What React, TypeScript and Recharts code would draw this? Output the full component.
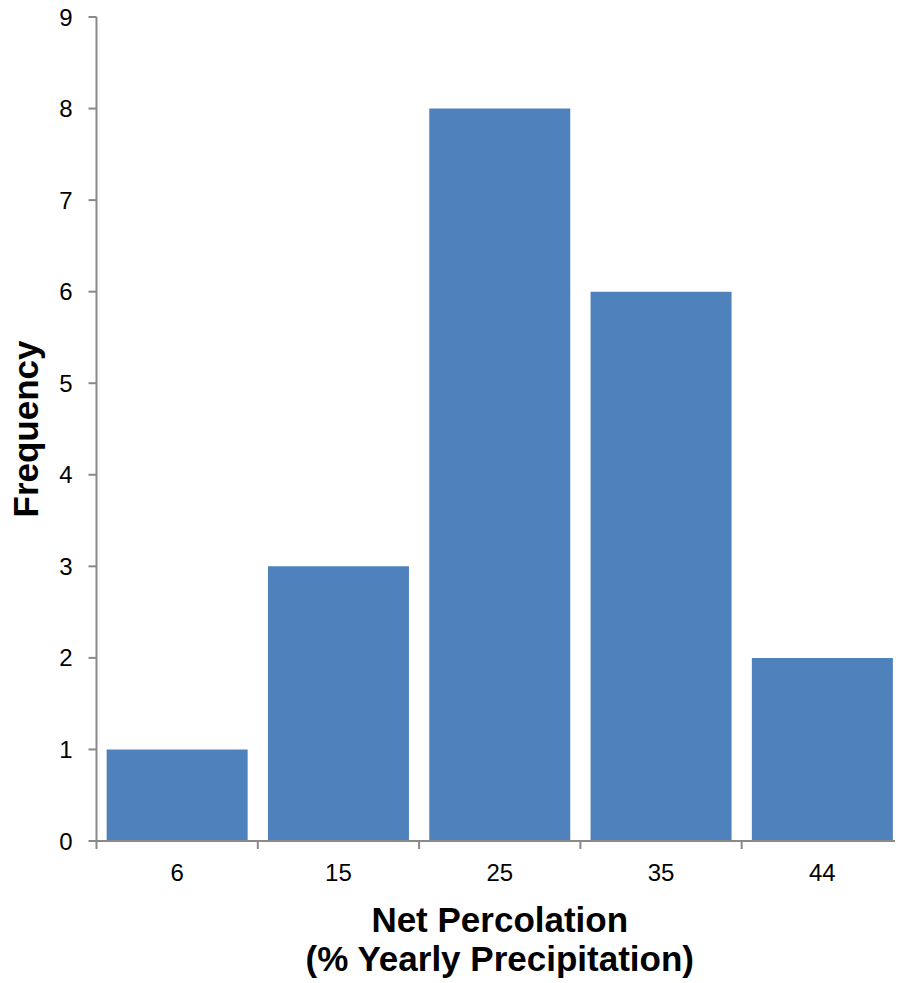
import React from 'react';
import { BarChart, Bar, XAxis, YAxis, Label } from 'recharts';

const categories = ['6', '15', '25', '35', '44'];
const frequencies = [1, 3, 8, 6, 2];
const yTicks = [0, 1, 2, 3, 4, 5, 6, 7, 8, 9];
const xTitleLines = ['Net Percolation', '(% Yearly Precipitation)'];
const yTitle = 'Frequency';

const data = categories.map((c, i) => ({ bin: c, frequency: frequencies[i] }));

const FONT = '"Liberation Sans", Arial, Helvetica, sans-serif';
const AXIS = '#898989';
const BAR = '#4F81BD';

function XTick(props: any) {
  const { x, y, payload, index } = props;
  const off = payload && payload.offset ? payload.offset : 80.65;
  return (
    <g>
      {index === 0 && (
        <line x1={x - off} x2={x - off} y1={y} y2={y + 8} stroke={AXIS} strokeWidth={2} />
      )}
      <line x1={x + off} x2={x + off} y1={y} y2={y + 8} stroke={AXIS} strokeWidth={2} />
      <text x={x} y={y + 40} textAnchor="middle" fontSize={24} fontFamily={FONT} fill="#000">
        {payload.value}
      </text>
    </g>
  );
}

function XTitle(props: any) {
  const vb = props.viewBox || { x: 96.5, y: 841, width: 806.5, height: 142 };
  const cx = vb.x + vb.width / 2;
  return (
    <g>
      <text x={cx} y={vb.y + 91} textAnchor="middle" fontSize={35} fontWeight="bold" fontFamily={FONT} fill="#000">
        {xTitleLines[0]}
      </text>
      <text x={cx} y={vb.y + 130} textAnchor="middle" fontSize={35} fontWeight="bold" fontFamily={FONT} fill="#000">
        {xTitleLines[1]}
      </text>
    </g>
  );
}

function YTitle(props: any) {
  const vb = props.viewBox || { x: 0, y: 17, width: 96.5, height: 824 };
  const tx = vb.x + 38.3;
  const ty = vb.y + vb.height / 2;
  return (
    <text
      x={tx}
      y={ty}
      transform={`rotate(-90, ${tx}, ${ty})`}
      textAnchor="middle"
      fontSize={35}
      fontWeight="bold"
      fontFamily={FONT}
      fill="#000"
    >
      {yTitle}
    </text>
  );
}

export default function App() {
  return (
    <div style={{ width: 903, height: 983, margin: '-8px 0 0 -8px' }}>
      <BarChart
        width={903}
        height={983}
        data={data}
        margin={{ top: 17, right: 0, bottom: 0, left: 0 }}
        barCategoryGap="6.3%"
      >
        <XAxis
          dataKey="bin"
          type="category"
          interval={0}
          height={142}
          tickSize={0}
          tickMargin={0}
          tickLine={false}
          axisLine={{ stroke: AXIS, strokeWidth: 2 }}
          tick={<XTick />}
        >
          <Label content={<XTitle />} />
        </XAxis>
        <YAxis
          type="number"
          domain={[0, 9]}
          ticks={yTicks}
          interval={0}
          width={96.5}
          tickSize={8}
          tickMargin={16}
          axisLine={{ stroke: AXIS, strokeWidth: 2 }}
          tickLine={{ stroke: AXIS, strokeWidth: 2 }}
          tick={{ fontSize: 24, fill: '#000', fontFamily: FONT }}
        >
          <Label content={<YTitle />} />
        </YAxis>
        <Bar dataKey="frequency" fill={BAR} isAnimationActive={false} />
      </BarChart>
    </div>
  );
}
